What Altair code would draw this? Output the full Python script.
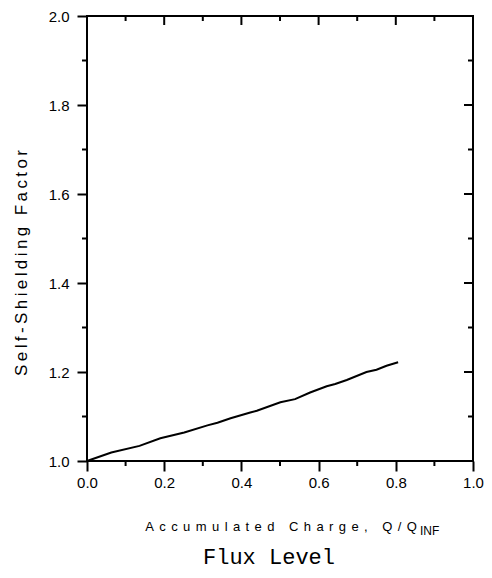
import altair as alt
import pandas as pd

# Data
charge = [0.0, 0.063, 0.136, 0.19, 0.252, 0.312, 0.338, 0.372, 0.423, 0.44, 0.501, 0.539, 0.578, 0.621, 0.643, 0.673, 0.724, 0.75, 0.776, 0.806]
factor = [1.0, 1.019, 1.034, 1.051, 1.064, 1.080, 1.086, 1.096, 1.109, 1.113, 1.132, 1.139, 1.154, 1.168, 1.173, 1.182, 1.200, 1.205, 1.214, 1.222]

x_major = [0.0, 0.2, 0.4, 0.6, 0.8, 1.0]
x_minor = [0.1, 0.3, 0.5, 0.7, 0.9]
y_major = [1.0, 1.2, 1.4, 1.6, 1.8, 2.0]
y_minor = [1.1, 1.3, 1.5, 1.7, 1.9]

y_title = "Self-Shielding Factor"
x_title = "Accumulated Charge, Q/Q"
x_sub = "INF"
bottom_title = "Flux Level"

W, H = 386, 445
FONT = "Liberation Sans"

def spaced(s, sep="\u2009"):
    return sep.join(list(s))

xs = alt.Scale(domain=[0, 1], nice=False)
ys = alt.Scale(domain=[1, 2], nice=False)

line_df = pd.DataFrame({"q": charge, "s": factor})

line = alt.Chart(line_df).mark_line(color="black", strokeWidth=2).encode(
    x=alt.X("q:Q", scale=xs,
            axis=alt.Axis(values=x_major, format=".1f", title=None, grid=False, domain=False,
                          tickSize=10, tickWidth=2, tickColor="black", labelFlush=False,
                          labelFont=FONT, labelFontSize=15, labelColor="black", labelPadding=4)),
    y=alt.Y("s:Q", scale=ys,
            axis=alt.Axis(values=y_major, format=".1f", title=None, grid=False, domain=False,
                          tickSize=10, tickWidth=2, tickColor="black", labelFlush=False,
                          labelFont=FONT, labelFontSize=15, labelColor="black", labelPadding=8)),
)

xmaj = pd.DataFrame({"q": x_major})
xmin = pd.DataFrame({"q": x_minor})
ymaj = pd.DataFrame({"s": y_major})
ymin = pd.DataFrame({"s": y_minor})

def xr(df, y1, y2):
    return alt.Chart(df).mark_rule(color="black", strokeWidth=2).encode(
        x=alt.X("q:Q", scale=xs), y=alt.value(y1), y2=alt.value(y2))

def yr(df, x1, x2):
    return alt.Chart(df).mark_rule(color="black", strokeWidth=2).encode(
        y=alt.Y("s:Q", scale=ys), x=alt.value(x1), x2=alt.value(x2))

ticks = [
    xr(xmin, H, H + 5),      # bottom minor, outward
    xr(xmaj, 0, 9),          # top major, inward
    xr(xmin, 0, 5),          # top minor, inward
    yr(ymin, 0, -5),         # left minor, outward
    yr(ymaj, W, W - 9),      # right major, inward
    yr(ymin, W, W - 5),      # right minor, inward
]

title_df = pd.DataFrame({"t": [spaced(y_title)]})
ytitle = alt.Chart(title_df).mark_text(angle=270, font=FONT, fontSize=17, color="black").encode(
    text="t:N", x=alt.value(-65), y=alt.value(247))

xt_df = pd.DataFrame({"t": [spaced(x_title, "\u2004\u200a")]})
xtitle = alt.Chart(xt_df).mark_text(font=FONT, fontSize=13, color="black", baseline="alphabetic").encode(
    text="t:N", x=alt.value(W / 2 + 1), y=alt.value(H + 70))

sub_df = pd.DataFrame({"t": [x_sub]})
sub = alt.Chart(sub_df).mark_text(font=FONT, fontSize=12, color="black", align="left", baseline="alphabetic").encode(
    text="t:N", x=alt.value(333), y=alt.value(H + 74))

bt_df = pd.DataFrame({"t": [bottom_title]})
btitle = alt.Chart(bt_df).mark_text(font="Liberation Mono", fontSize=22, color="black", baseline="alphabetic").encode(
    text="t:N", x=alt.value(182), y=alt.value(H + 103))

chart = alt.layer(line, *ticks, ytitle, xtitle, sub, btitle).properties(
    width=W, height=H,
    autosize=alt.AutoSizeParams(type="none"),
    padding={"left": 79, "top": 8, "right": 11, "bottom": 109},
    background="white",
).configure_view(stroke="black", strokeWidth=2)

chart.save("out.html", embed_options={"renderer": "svg", "actions": False})
